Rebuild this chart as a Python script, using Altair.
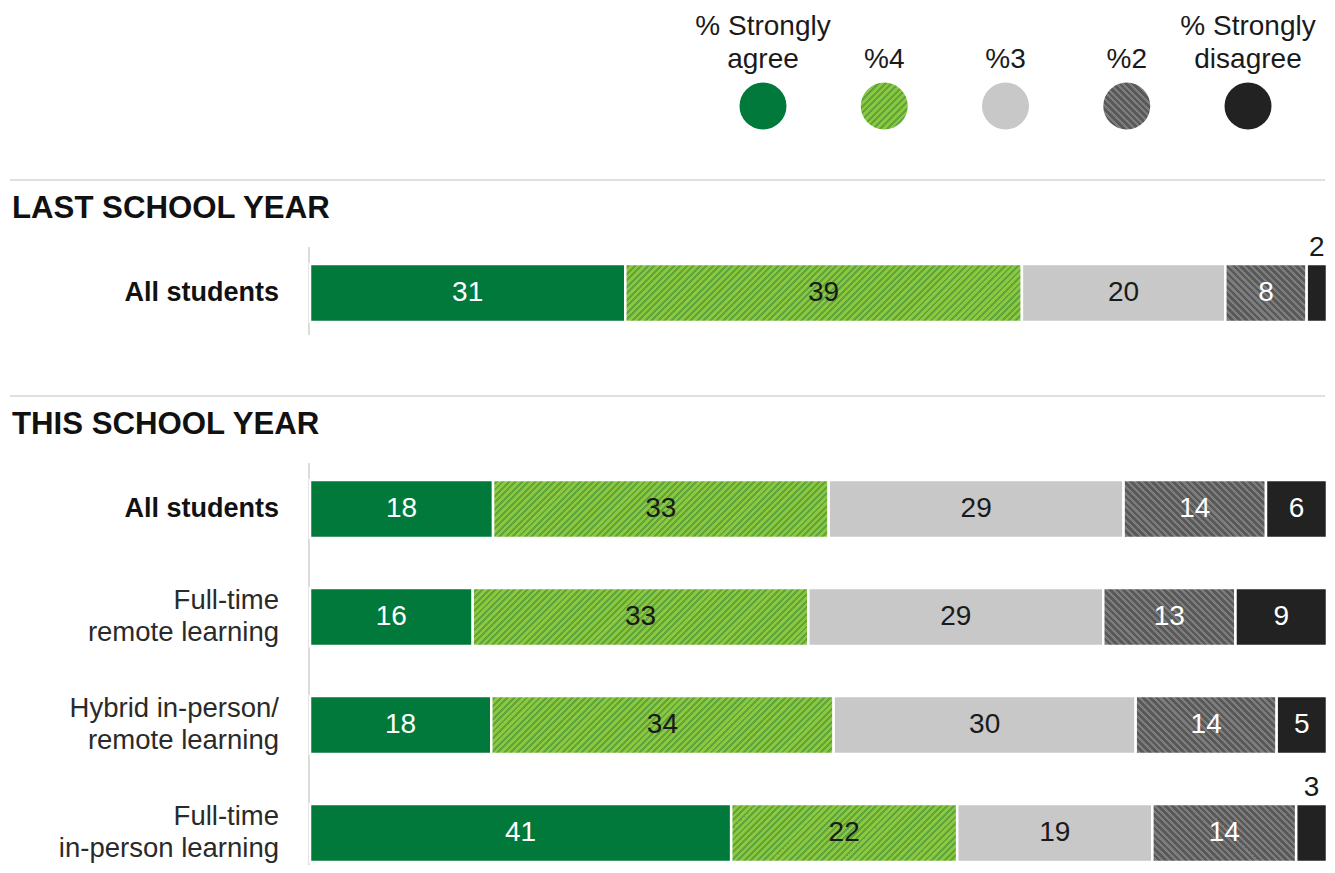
import altair as alt

# ---------------- data ----------------
categories = ["% Strongly agree", "%4", "%3", "%2", "% Strongly disagree"]
legend_line1 = ["% Strongly", "", "", "", "% Strongly"]
legend_line2 = ["agree", "%4", "%3", "%2", "disagree"]

row_keys = ["last_all", "gap", "this_all", "remote", "hybrid", "inperson"]
row_labels = ["All students", "", "All students", "Full-time\nremote learning",
              "Hybrid in-person/\nremote learning", "Full-time\nin-person learning"]
row_bold = [True, False, True, False, False, False]

last_all = [31, 39, 20, 8, 2]
this_all = [18, 33, 29, 14, 6]
remote = [16, 33, 29, 13, 9]
hybrid = [18, 34, 30, 14, 5]
inperson = [41, 22, 19, 14, 3]

section_rows = ["last_all", "this_all"]
section_titles = ["LAST SCHOOL YEAR", "THIS SCHOOL YEAR"]
section_last = ["last_all", "inperson"]

# ---------------- styling ----------------
PLOT_W = 1017
BAR_H = 58
FONT = "Liberation Sans"
TXT = "#1a1a1a"

GREEN = "#00793a"
LG_A, LG_B = "#8dc63f", "#5ea63c"
DOT_BG = "#c8c8c8"
DG_A, DG_B = "#595959", "#7d7d7d"
BLACK = "#222222"


def stripes(W, H, c1, c2, period, up=True):
    k = (W + H) / (W * W + H * H)
    if up:
        x1, y1, x2, y2 = 0, 0, k * W, k * H
    else:
        x1, y1, x2, y2 = 0, 1, k * W, 1 - k * H
    n = max(1, round((W + H) / period))
    stops = []
    for i in range(n):
        a, b, c = i / n, (i + 0.55) / n, (i + 1) / n
        stops += [{"offset": a, "color": c1}, {"offset": b, "color": c1},
                  {"offset": b, "color": c2}, {"offset": c, "color": c2}]
    return {"gradient": "linear", "x1": x1, "y1": y1, "x2": x2, "y2": y2, "stops": stops}


def fill_for(ci, W, H):
    if ci == 0:
        return GREEN
    if ci == 1:
        return stripes(W, H, LG_A, LG_B, 6.5, up=True)
    if ci == 2:
        return DOT_BG
    if ci == 3:
        return stripes(W, H, DG_A, DG_B, 6.8, up=False)
    return BLACK


row_values = {"last_all": last_all, "this_all": this_all, "remote": remote,
              "hybrid": hybrid, "inperson": inperson}

bar_records = []
for key, vals in row_values.items():
    tot = sum(vals)
    for ci, (cat, v) in enumerate(zip(categories, vals)):
        bar_records.append({
            "row": key, "cat": cat, "order": ci, "value": v,
            "fillg": fill_for(ci, v / tot * PLOT_W, BAR_H),
        })

label_records = [{"row": k, "label": l} for k, l, b in zip(row_keys, row_labels, row_bold) if l and b]
label_records_n = [{"row": k, "label": l} for k, l, b in zip(row_keys, row_labels, row_bold) if l and not b]
section_records = [{"row": r, "text": t, "last": l} for r, t, l in zip(section_rows, section_titles, section_last)]
legend_records = [{"cat": c, "l1": a, "l2": b, "fillg": fill_for(i, 47, 47)}
                  for i, (c, a, b) in enumerate(zip(categories, legend_line1, legend_line2))]

# ---------------- scales ----------------
yscale = alt.Scale(domain=row_keys, range=[231, 879], paddingInner=50 / 108, paddingOuter=25 / 108)
Y = alt.Y("row:N", scale=yscale, axis=None)
xscale = alt.Scale(domain=[0, 1], nice=False, zero=False)

base_bars = alt.Chart(alt.Data(values=bar_records)).transform_joinaggregate(
    total="sum(value)", groupby=["row"]
).transform_window(
    cum="sum(value)", groupby=["row"], sort=[alt.SortField("order")], frame=[None, 0]
).transform_calculate(
    x0="(datum.cum - datum.value) / datum.total",
    x1="datum.cum / datum.total",
    xm="(datum.cum - datum.value / 2) / datum.total",
)

bars = base_bars.mark_bar(stroke="white", strokeWidth=2.5).encode(
    x=alt.X("x0:Q", scale=xscale, axis=None),
    x2="x1:Q",
    y=Y,
    fill=alt.Fill("fillg:N", scale=None),
)

vlabels = base_bars.transform_filter("datum.value >= 4").mark_text(
    font=FONT, fontSize=28, baseline="middle", align="center"
).encode(
    x=alt.X("xm:Q", scale=xscale, axis=None),
    y=Y,
    text="value:Q",
    color=alt.condition("datum.order == 1 || datum.order == 2", alt.value(TXT), alt.value("white")),
)

vlabels_small = base_bars.transform_filter("datum.value < 4").mark_text(
    font=FONT, fontSize=28, baseline="middle", align="center", dy=-45, color=TXT
).encode(
    x=alt.X("xm:Q", scale=xscale, axis=None),
    y=Y,
    text="value:Q",
)

sec = alt.Chart(alt.Data(values=section_records))
dividers = sec.mark_rule(color="#d6d6d6", strokeWidth=1.5, yOffset=-113).encode(
    x=alt.value(-300), x2=alt.value(1015), y=Y
)
headers = sec.mark_text(font=FONT, fontSize=31.2, fontWeight="bold", align="left",
                        baseline="alphabetic", dy=-75, color="#111111").encode(
    x=alt.value(-298), y=Y, text="text:N"
)
axis_lines = sec.mark_rule(color="#d0d0d0", strokeWidth=1.5, yOffset=-46, y2Offset=42).encode(
    x=alt.value(-1), y=Y, y2="last:N"
)

row_bold_txt = alt.Chart(alt.Data(values=label_records)).mark_text(
    font=FONT, fontSize=27, fontWeight="bold", align="right", baseline="middle",
    lineBreak="\n", lineHeight=32, color="#111111"
).encode(x=alt.value(-31), y=Y, text="label:N")

row_norm_txt = alt.Chart(alt.Data(values=label_records_n)).mark_text(
    font=FONT, fontSize=27.5, align="right", baseline="middle", dy=-16,
    lineBreak="\n", lineHeight=32, color="#2a2a2a"
).encode(x=alt.value(-31), y=Y, text="label:N")

lscale = alt.Scale(domain=categories, range=[453, 938], padding=0)
leg = alt.Chart(alt.Data(values=legend_records))
legend_dots = leg.mark_point(shape="circle", filled=True, size=2209, opacity=1, strokeWidth=0).encode(
    x=alt.X("cat:N", scale=lscale, axis=None),
    y=alt.value(98),
    fill=alt.Fill("fillg:N", scale=None),
)
legend_text1 = leg.mark_text(font=FONT, fontSize=28, align="center", baseline="alphabetic",
                             color=TXT).encode(
    x=alt.X("cat:N", scale=lscale, axis=None),
    y=alt.value(27),
    text="l1:N",
)
legend_text2 = leg.mark_text(font=FONT, fontSize=28, align="center", baseline="alphabetic",
                             color=TXT).encode(
    x=alt.X("cat:N", scale=lscale, axis=None),
    y=alt.value(60),
    text="l2:N",
)

chart = alt.layer(
    dividers, headers, axis_lines, bars, vlabels, vlabels_small,
    row_bold_txt, row_norm_txt, legend_dots, legend_text1, legend_text2
).resolve_scale(x="independent").properties(
    width=PLOT_W, height=857,
    autosize=alt.AutoSizeParams(type="none"),
    padding={"left": 302, "top": 0, "right": 0, "bottom": 0},
).configure_view(stroke=None)

chart.save("out.html", embed_options={"renderer": "svg", "actions": False})
